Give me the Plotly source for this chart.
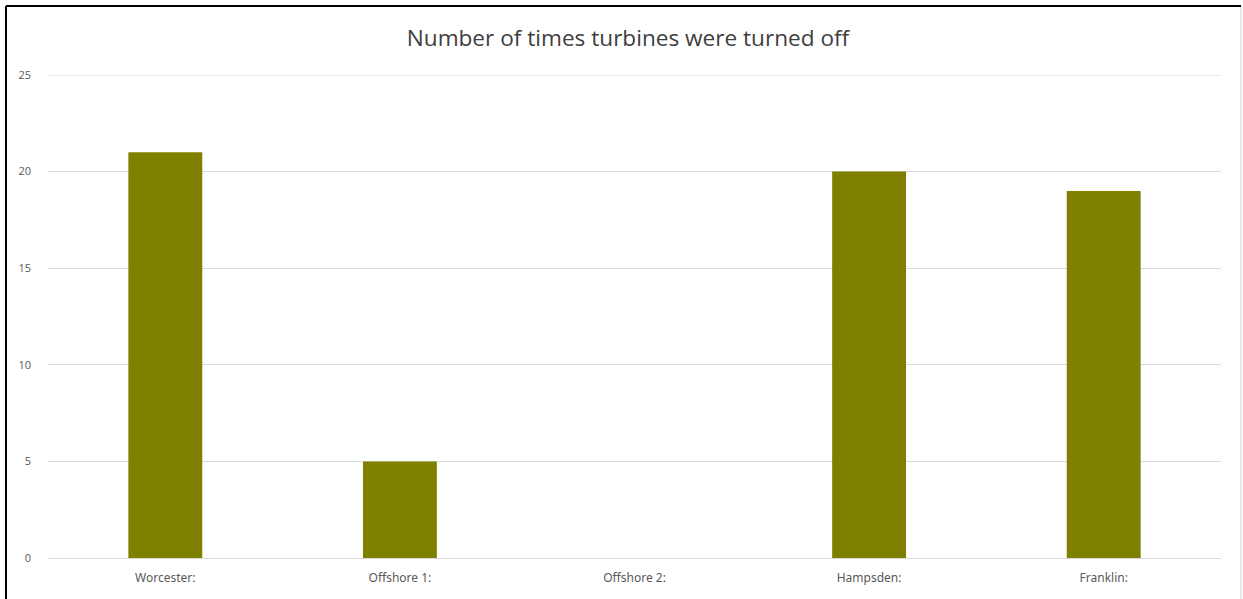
import plotly.graph_objects as go

# Turbine shutdown counts per site
sites = ["Worcester:", "Offshore 1:", "Offshore 2:", "Hampsden:", "Franklin:"]
times_off = [21, 5, 0, 20, 19]
y_ticks = [0, 5, 10, 15, 20, 25]

W, H = 1243, 599
L, R, T, B = 48, 22, 75, 41
pw, ph = W - L - R, H - T - B


def px_x(px):
    return (px - L) / pw


def px_y(py):
    return (H - B - py) / ph


fig = go.Figure(
    go.Bar(
        x=sites,
        y=times_off,
        width=0.315,
        marker=dict(color="#808000", line=dict(width=0)),
    )
)

# Frame lines around the chart area
frame = [
    dict(x0=px_x(6), x1=px_x(1241), y0=px_y(6), y1=px_y(6), color="#000000", w=2),
    dict(x0=px_x(6), x1=px_x(6), y0=px_y(6), y1=px_y(600), color="#000000", w=2),
    dict(x0=px_x(1241), x1=px_x(1241), y0=px_y(7), y1=px_y(600), color="#d0d0d0", w=1),
]
shapes = [
    dict(type="line", xref="paper", yref="paper", x0=f["x0"], x1=f["x1"],
         y0=f["y0"], y1=f["y1"], line=dict(color=f["color"], width=f["w"]))
    for f in frame
]
# Top gridline at the last tick (plotly skips it at the plot edge)
shapes.append(
    dict(type="line", xref="paper", yref="y", x0=0, x1=1,
         y0=y_ticks[-1], y1=y_ticks[-1], layer="below",
         line=dict(color="#d9d9d9", width=1))
)

fig.update_layout(
    width=W,
    height=H,
    margin=dict(l=L, r=R, t=T, b=B),
    paper_bgcolor="white",
    plot_bgcolor="white",
    showlegend=False,
    title=dict(
        text="Number of times turbines were turned off",
        xref="paper",
        x=px_x(628),
        xanchor="center",
        y=1 - 38 / H,
        yanchor="middle",
        font=dict(family="Open Sans", size=22.6, color="#404040"),
    ),
    xaxis=dict(
        showgrid=False,
        showline=False,
        ticks="",
        ticklabelstandoff=11,
        tickfont=dict(family="Noto Sans", size=12, color="#595959"),
    ),
    yaxis=dict(
        range=[0, 25],
        tickvals=y_ticks,
        showgrid=True,
        gridcolor="#d9d9d9",
        gridwidth=1,
        zeroline=True,
        zerolinecolor="#d9d9d9",
        zerolinewidth=1,
        showline=False,
        ticks="",
        ticklabelstandoff=16,
        tickfont=dict(family="Open Sans", size=11, color="#595959"),
    ),
    shapes=shapes,
)

fig.write_html("out.html")
